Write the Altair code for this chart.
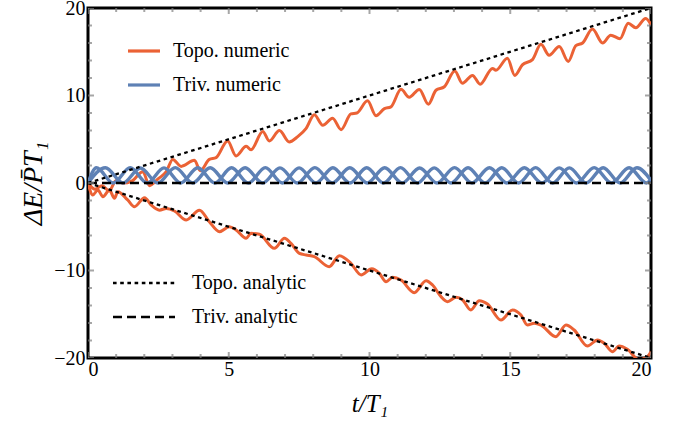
import altair as alt
import pandas as pd

# Energy gain of the pumped modes, in units of P̄·T1, versus time t/T1
topo_up_t = [0, 0.25, 0.5, 0.75, 1.0, 1.25, 1.55, 1.95, 2.18, 2.5, 2.78, 3.01, 3.31, 3.78, 3.99,
             4.31, 4.55, 4.96, 5.26, 5.62, 5.79, 6.21, 6.44, 6.80, 7.15, 7.45, 7.75, 8.04, 8.34, 8.69,
             8.99, 9.34, 9.55, 9.93, 10.23, 10.53, 10.76, 11.12, 11.41, 11.77, 12.09, 12.36, 12.66,
             13.03, 13.3, 13.66, 13.93, 14.37, 14.49, 14.9, 15.16, 15.43, 15.79, 16.09, 16.38, 16.74,
             17.06, 17.33, 17.57, 17.92, 18.28, 18.57, 18.9, 19.19, 19.46, 19.81, 20.0]
topo_up_v = [0, -0.7, -0.3, -0.9, 0.3, 0.0, 0.2, 1.3, -0.3, 0.5, 1.3, 2.7, 1.9, 2.6, 1.4,
             2.7, 2.9, 4.8, 3.1, 4.2, 3.8, 5.9, 4.8, 6.0, 4.7, 5.3, 6.25, 7.8, 6.6, 7.4,
             6.1, 7.9, 8.0, 9.4, 7.7, 8.5, 8.7, 10.7, 9.8, 10.7, 9.0, 10.6, 11.0,
             12.8, 11.4, 12.3, 11.3, 13.1, 12.9, 14.25, 12.3, 13.5, 14.1, 15.85, 14.6, 15.6,
             13.9, 15.7, 16.0, 17.6, 16.0, 16.9, 16.5, 18.25, 17.75, 18.8, 18.1]

topo_dn_t = [0, 0.17, 0.35, 0.53, 0.76, 0.94, 1.06, 1.41, 1.65, 2.01, 2.24, 2.54, 2.78, 3.07, 3.49,
             3.96, 4.31, 4.67, 5.02, 5.26, 5.62, 5.79, 6.09, 6.62, 6.98, 7.21, 7.51, 7.75, 8.04, 8.57,
             8.93, 9.34, 9.7, 10.08, 10.35, 10.59, 10.82, 11.12, 11.59, 12.01, 12.24, 12.54, 12.77,
             13.07, 13.31, 13.6, 13.9, 14.19, 14.67, 15.08, 15.38, 15.61, 15.85, 16.09, 16.62, 16.98,
             17.27, 17.74, 18.1, 18.34, 18.63, 18.87, 19.16, 19.58, 19.87, 20.0]
topo_dn_v = [0, -1.37, -0.8, -1.56, -0.8, -1.75, -1.0, -1.94, -2.7, -1.68, -2.5, -3.1, -2.9, -3.2, -4.23,
             -3.1, -4.42, -5.56, -5.0, -5.37, -6.32, -5.75, -5.86, -7.47, -6.32, -6.9, -8.04, -8.23, -8.42, -9.56,
             -8.3, -9.18, -10.5, -9.8, -10.32, -11.28, -10.78, -11.09, -12.53, -11.16, -11.66, -12.99, -13.56,
             -13.07, -13.37, -14.51, -13.45, -13.83, -15.66, -14.51, -15.09, -16.23, -16.03, -16.23, -17.56, -16.23,
             -16.8, -18.63, -17.94, -18.32, -19.28, -18.63, -19.0, -20.2, -19.85, -19.28]

triv_a_t = [0, 0.62, 1.24, 1.86, 2.48, 3.10, 3.72, 4.34, 4.96, 5.58, 6.20, 6.82, 7.44, 8.06, 8.68,
            9.30, 9.92, 10.54, 11.16, 11.78, 12.40, 13.02, 13.64, 14.26, 14.88, 15.50, 16.12, 16.74,
            17.36, 17.98, 18.60, 19.22, 19.84, 20.0]
triv_a_v = [0, 1.75, 0, 1.72, 0, 1.76, 0, 1.74, 0, 1.75, 0, 1.73, 0, 1.76, 0,
            1.74, 0, 1.75, 0, 1.72, 0, 1.76, 0, 1.74, 0, 1.75, 0, 1.73,
            0, 1.76, 0, 1.74, 0, 0.45]

triv_b_t = [0, 0.30, 0.90, 1.50, 2.10, 2.70, 3.30, 3.90, 4.50, 5.10, 5.70, 6.30, 6.90, 7.50, 8.10,
            8.70, 9.30, 9.90, 10.50, 11.10, 11.70, 12.30, 12.90, 13.50, 14.10, 14.70, 15.30, 15.90,
            16.50, 17.10, 17.70, 18.30, 18.90, 19.50, 20.0]
triv_b_v = [0, 1.74, 0, 1.76, 0, 1.73, 0, 1.75, 0, 1.74, 0, 1.76, 0, 1.73, 0,
            1.75, 0, 1.74, 0, 1.76, 0, 1.73, 0, 1.75, 0, 1.74, 0, 1.76,
            0, 1.73, 0, 1.75, 0, 1.74, 0.3]

# Analytic predictions: ±t for the topological pump, zero for the trivial one
ana_t = [0, 20]
topo_up_ana = [0, 20]
topo_dn_ana = [0, -20]
triv_ana = [0, 0]

# Frame tick positions
x_major = [0, 5, 10, 15, 20]
x_minor = [1, 2, 3, 4, 6, 7, 8, 9, 11, 12, 13, 14, 16, 17, 18, 19]
y_major = [-20, -10, 0, 10, 20]
y_minor = [-18, -16, -14, -12, -8, -6, -4, -2, 2, 4, 6, 8, 12, 14, 16, 18]

ORANGE = "#EB6235"
BLUE = "#5E81B5"
FONT = "Liberation Serif"
DOTTED = [3.6, 3.6]
DASHED = [9, 5]


def frame(ts, vs, series, curve):
    return pd.DataFrame({"t": ts, "v": vs, "series": series, "curve": curve})


topo = pd.concat([frame(topo_up_t, topo_up_v, "Topo. numeric", "up"),
                  frame(topo_dn_t, topo_dn_v, "Topo. numeric", "down")])
triv = pd.concat([frame(triv_a_t, triv_a_v, "Triv. numeric", "a"),
                  frame(triv_b_t, triv_b_v, "Triv. numeric", "b")])
analytic = pd.concat([frame(ana_t, topo_up_ana, "Topo. analytic", "up"),
                      frame(ana_t, topo_dn_ana, "Topo. analytic", "down"),
                      frame(ana_t, triv_ana, "Triv. analytic", "zero")])

# Ticks along the bottom/top edges (x ticks) and left/right edges (y ticks)
xticks = pd.DataFrame({
    "t": x_major * 2 + x_minor * 2,
    "v": [-20] * 5 + [20] * 5 + [-20] * 16 + [20] * 16,
    "kind": ["major"] * 10 + ["minor"] * 32,
})
yticks = pd.DataFrame({
    "v": y_major * 2 + y_minor * 2,
    "t": [0] * 5 + [20] * 5 + [0] * 16 + [20] * 16,
    "kind": ["major"] * 10 + ["minor"] * 32,
})

x_scale = alt.Scale(domain=[0, 20], nice=False, zero=False)
y_scale = alt.Scale(domain=[-20, 20], nice=False, zero=False)

X = alt.X("t:Q", scale=x_scale,
          axis=alt.Axis(values=x_major, title="t/T₁", titleFontStyle="italic",
                        titleFont=FONT, titleFontSize=25, labelFont=FONT, labelFontSize=20,
                        titlePadding=12, labelPadding=1))
Y = alt.Y("v:Q", scale=y_scale,
          axis=alt.Axis(values=y_major, title="ΔE/P̄T₁", titleFontStyle="italic",
                        titleFont=FONT, titleFontSize=28, labelFont=FONT, labelFontSize=20,
                        titlePadding=6, labelPadding=3))

color = alt.Color("series:N",
                  scale=alt.Scale(domain=["Topo. numeric", "Triv. numeric"], range=[ORANGE, BLUE]),
                  legend=alt.Legend(title=None, orient="none", legendX=38, legendY=25,
                                    symbolType="stroke", symbolSize=1024, symbolStrokeWidth=3.2,
                                    labelOffset=11, rowPadding=6))

orange_layer = alt.Chart(topo).mark_line(clip=True, interpolate="monotone", strokeWidth=3).encode(
    x=X, y=Y, color=color, detail="curve:N")
blue_layer = alt.Chart(triv).mark_line(clip=True, interpolate="monotone", strokeWidth=3.4).encode(
    x=X, y=Y, color=color, detail="curve:N")

analytic_layer = alt.Chart(analytic).mark_line(clip=True, color="black", strokeWidth=2.3).encode(
    x=X, y=Y,
    strokeDash=alt.StrokeDash(
        "series:N",
        scale=alt.Scale(domain=["Topo. analytic", "Triv. analytic"], range=[DOTTED, DASHED]),
        legend=None),
    detail="curve:N")

tick_size = alt.Size("kind:N", scale=alt.Scale(domain=["major", "minor"], range=[12, 8]), legend=None)

xtick_layer = alt.Chart(xticks).mark_tick(clip=True, orient="vertical", thickness=2, color="#808080").encode(
    x=X, y=Y, size=tick_size)
ytick_layer = alt.Chart(yticks).mark_tick(clip=True, orient="horizontal", thickness=2, color="#808080").encode(
    x=X, y=Y, size=tick_size)

# Key for the analytic curves, lower left inside the frame
key_layers = []
for label, dash, row_y in [("Topo. analytic", DOTTED, 275), ("Triv. analytic", DASHED, 309)]:
    key_df = pd.DataFrame({"label": [label]})
    key_layers.append(
        alt.Chart(key_df).mark_rule(color="black", strokeWidth=2.3, strokeDash=dash).encode(
            x=alt.value(25), x2=alt.value(87), y=alt.value(row_y)))
    key_layers.append(
        alt.Chart(key_df).mark_text(align="left", baseline="middle", font=FONT, fontSize=20,
                                    color="black").encode(
            x=alt.value(104), y=alt.value(row_y), text="label:N"))

chart = alt.layer(orange_layer, blue_layer, analytic_layer, xtick_layer, ytick_layer,
                  *key_layers).properties(
    width=563, height=350,
    autosize=alt.AutoSizeParams(type="none"),
    padding={"left": 88, "top": 8, "right": 41, "bottom": 72},
).configure_view(
    stroke="black", strokeWidth=3
).configure_axis(
    domain=False, ticks=False, grid=False,
    labelFont=FONT, labelFontSize=20, labelColor="black",
    titleFont=FONT, titleColor="black", titleFontWeight="normal",
).configure_legend(
    labelFont=FONT, labelFontSize=20, labelColor="black",
)

chart.save("out.html", embed_options={"renderer": "svg", "actions": False})
